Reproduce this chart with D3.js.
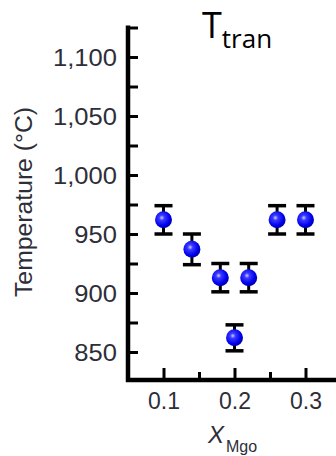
<!DOCTYPE html>
<html>
<head>
<meta charset="utf-8">
<script src="https://cdn.jsdelivr.net/npm/d3@7"></script>
<style>
  body { margin: 0; background: #fff; }
  svg { display: block; }
</style>
</head>
<body>
<svg id="chart" width="336" height="456"></svg>
<script>
const xMgo = [0.1, 0.14, 0.18, 0.2, 0.22, 0.26, 0.3];
const tTran = [962, 937, 913, 862, 913, 962, 962];
const tErr = [12, 13, 12, 11, 12, 12, 12];
const yMajor = [850, 900, 950, 1000, 1050, 1100];
const yMinor = [875, 925, 975, 1025, 1075, 1125];
const xMajor = [0.1, 0.2, 0.3];
const xMinor = [0.15, 0.25];

const svg = d3.select("#chart");
const x = d3.scaleLinear().domain([0.05, 0.35]).range([128, 341]);
const y = d3.scaleLinear().domain([825, 1125]).range([381.5, 27.5]);
const ink = "#2e2e38";

const defs = svg.append("defs");
const grad = defs.append("radialGradient").attr("id", "ball").attr("cx", "40%").attr("cy", "38%").attr("r", "62%");
grad.append("stop").attr("offset", "0%").attr("stop-color", "#c8d0ff");
grad.append("stop").attr("offset", "25%").attr("stop-color", "#3a3aff");
grad.append("stop").attr("offset", "75%").attr("stop-color", "#0000f0");
grad.append("stop").attr("offset", "100%").attr("stop-color", "#0000a8");

// y axis, ticks point inward
const yAxis = svg.append("g").attr("transform", "translate(128,0)")
  .call(d3.axisLeft(y).tickValues(yMajor).tickSize(-10).tickPadding(11).tickFormat(d3.format(",")));
const yMin = svg.append("g").attr("transform", "translate(128,0)")
  .call(d3.axisLeft(y).tickValues(yMinor).tickSize(-10).tickFormat(""));
yMin.select(".domain").remove();

// x axis
const xAxis = svg.append("g").attr("transform", "translate(0,380)")
  .call(d3.axisBottom(x).tickValues(xMajor).tickSize(-12).tickPadding(22).tickFormat(d3.format(".1f")));
const xMin = svg.append("g").attr("transform", "translate(0,380)")
  .call(d3.axisBottom(x).tickValues(xMinor).tickSize(-8).tickFormat(""));
xMin.select(".domain").remove();

[yAxis, yMin, xAxis, xMin].forEach(g => g.selectAll(".tick line").attr("stroke", "#000").attr("stroke-width", 3));
yAxis.select(".domain").attr("stroke", "#000").attr("stroke-width", 4.5).attr("d", "M0,25.5V382");
xAxis.select(".domain").attr("stroke", "#000").attr("stroke-width", 4.5).attr("d", "M126,0H336");

yAxis.selectAll("text").attr("font-family", "Liberation Sans, Arial, sans-serif").attr("font-size", 23)
  .attr("fill", ink).attr("dy", "0.36em").attr("transform", "scale(1.11,1)").attr("x", -10);
xAxis.selectAll("text").attr("font-family", "Liberation Sans, Arial, sans-serif").attr("font-size", 23)
  .attr("fill", ink).attr("dy", "0.36em").attr("y", 21);

// error bars and points
const pts = svg.append("g");
xMgo.forEach((v, i) => {
  const cx = x(v), lo = y(tTran[i] - tErr[i]), hi = y(tTran[i] + tErr[i]);
  pts.append("line").attr("x1", cx).attr("x2", cx).attr("y1", lo).attr("y2", hi).attr("stroke", "#000").attr("stroke-width", 3);
  pts.append("line").attr("x1", cx - 9).attr("x2", cx + 9).attr("y1", lo).attr("y2", lo).attr("stroke", "#000").attr("stroke-width", 3.5);
  pts.append("line").attr("x1", cx - 9).attr("x2", cx + 9).attr("y1", hi).attr("y2", hi).attr("stroke", "#000").attr("stroke-width", 3.5);
  pts.append("circle").attr("cx", cx).attr("cy", y(tTran[i])).attr("r", 8.5).attr("fill", "url(#ball)");
});

// y label
svg.append("text").attr("transform", "translate(32,202) rotate(-90)").attr("text-anchor", "middle")
  .attr("font-family", "Liberation Sans, Arial, sans-serif").attr("font-size", 23).attr("fill", ink)
  .attr("textLength", 190).attr("lengthAdjust", "spacingAndGlyphs").text("Temperature (°C)");

// x label
const xl = svg.append("text").attr("x", 208).attr("y", 443).attr("font-family", "Liberation Sans, Arial, sans-serif").attr("fill", ink);
xl.append("tspan").attr("font-size", 24).attr("font-style", "italic").text("X");
xl.append("tspan").attr("font-size", 16).attr("dx", 2).attr("dy", 9).text("Mgo");

// title
const tl = svg.append("text").attr("x", 202).attr("y", 38).attr("font-family", "Open Sans, Noto Sans, sans-serif").attr("fill", "#000");
tl.append("tspan").attr("font-size", 36).text("T");
tl.append("tspan").attr("font-size", 26).attr("dx", 0).attr("dy", 10).text("tran");
</script>
</body>
</html>
